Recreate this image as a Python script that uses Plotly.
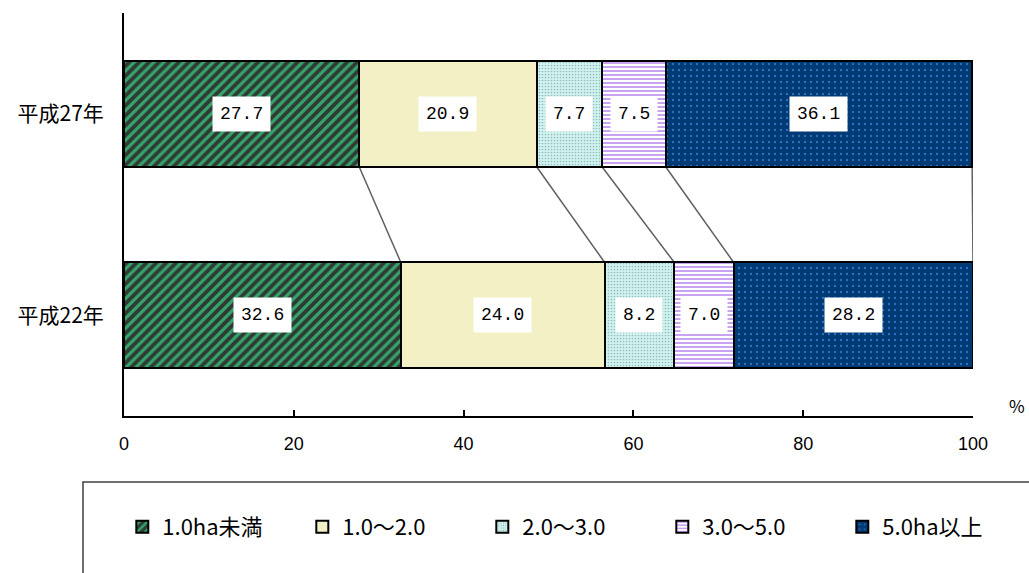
import plotly.graph_objects as go

# ---- data ----
years = ["平成22年", "平成27年"]          # bottom, top
categories = ["1.0ha未満", "1.0～2.0", "2.0～3.0", "3.0～5.0", "5.0ha以上"]
h22 = [32.6, 24.0, 8.2, 7.0, 28.2]
h27 = [27.7, 20.9, 7.7, 7.5, 36.1]
x_ticks = [0, 20, 40, 60, 80, 100]

# ---- styles ----
styles = [
    dict(bg="#2f3a34", fg="#35a56b", shape="/", size=7, solidity=0.45),
    dict(bg="#f2f0c4", fg="#f2f0c4", shape="", size=6, solidity=0.3),
    dict(bg="#d2f4f1", fg="#94bcba", shape=".", size=3, solidity=0.25),
    dict(bg="#ffffff", fg="#c9a2f2", shape="-", size=4, solidity=0.5),
    dict(bg="#003a74", fg="#2f6fbe", shape=".", size=6, solidity=0.12),
]

fig = go.Figure()
ypos = [0, 1]
for i, cat in enumerate(categories):
    s = styles[i]
    fig.add_trace(go.Bar(
        x=[h22[i], h27[i]], y=ypos, orientation="h", name=cat,
        marker=dict(
            color=s["bg"],
            line=dict(color="black", width=2),
            pattern=dict(shape=s["shape"], bgcolor=s["bg"], fgcolor=s["fg"],
                         size=s["size"], solidity=s["solidity"], fillmode="replace"),
        ),
        hoverinfo="skip",
    ))

bar_w = 0.526
# connecting lines and labels
cum22 = 0.0
cum27 = 0.0
annotations = []
shapes = []
for i in range(len(categories)):
    for yv, vals, cum in ((0, h22, cum22), (1, h27, cum27)):
        annotations.append(dict(
            x=cum + vals[i] / 2, y=yv, xref="x", yref="y",
            text=f"{vals[i]:.1f}", showarrow=False,
            font=dict(family="Liberation Mono, DejaVu Sans Mono, monospace", size=18, color="black"),
            bgcolor="white", borderpad=7,
        ))
    cum22 += h22[i]
    cum27 += h27[i]
    shapes.append(dict(
        type="line", xref="x", yref="y",
        x0=cum27, y0=1 - bar_w / 2, x1=cum22, y1=0 + bar_w / 2,
        line=dict(color="#606060", width=1.5), layer="below",
    ))

# legend frame
shapes.append(dict(
    type="rect", xref="paper", yref="paper",
    x0=-0.0483, x1=1.08, y0=-0.1638, y1=-0.45,
    line=dict(color="#404040", width=1.5), fillcolor="rgba(0,0,0,0)",
))

annotations.append(dict(
    x=1.0 + (1017 - 973) / 849, y=(416 - 405) / 403, xref="paper", yref="paper",
    text="%", showarrow=False, font=dict(family="Noto Sans CJK JP", size=17, color="black"),
    xanchor="center", yanchor="middle",
))

fig.update_layout(
    width=1029, height=573,
    margin=dict(l=124, r=56, t=13, b=157),
    barmode="stack", bargap=0.474,
    plot_bgcolor="white", paper_bgcolor="white",
    showlegend=True,
    legend=dict(
        orientation="h", x=-0.002, y=(416 - 527) / 403, xanchor="left", yanchor="middle",
        font=dict(family="Noto Sans CJK JP", size=22, color="black"),
        entrywidth=135, entrywidthmode="pixels", traceorder="normal",
        bgcolor="rgba(0,0,0,0)", itemclick=False,
    ),
    xaxis=dict(
        range=[0, 100], tickvals=x_ticks, ticktext=[str(v) for v in x_ticks],
        showgrid=False, zeroline=False, showline=True, linecolor="black", linewidth=2,
        ticks="inside", ticklen=6, tickwidth=2, tickcolor="black",
        tickfont=dict(family="Liberation Sans Narrow, Liberation Sans", size=18, color="black"),
        ticklabelstandoff=10,
    ),
    yaxis=dict(
        range=[-0.5, 1.5], tickvals=ypos, ticktext=years,
        showgrid=False, zeroline=False, showline=True, linecolor="black", linewidth=2,
        ticks="", tickfont=dict(family="Noto Sans CJK JP", size=21, color="black"),
        ticklabelstandoff=14,
    ),
    annotations=annotations,
    shapes=shapes,
)

fig.write_html("out.html")
